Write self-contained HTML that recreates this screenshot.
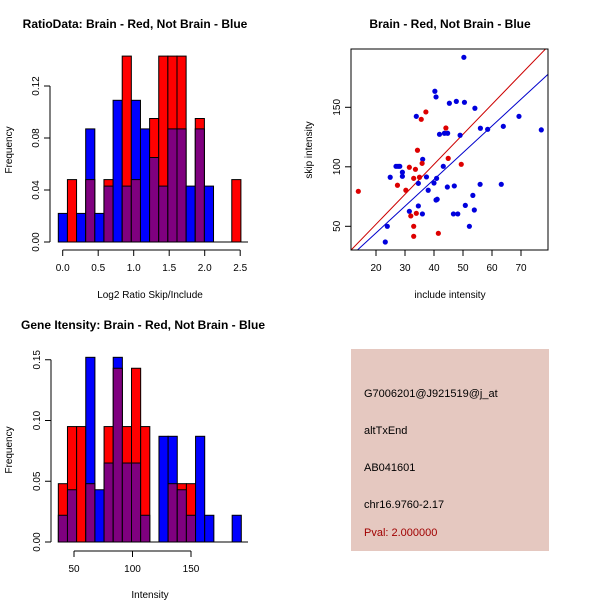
<!DOCTYPE html>
<html><head><meta charset="utf-8"><style>
body{margin:0;background:#fff}
svg{display:block;font-family:"Liberation Sans",sans-serif}
</style></head><body>
<svg id="s" width="600" height="600" xmlns="http://www.w3.org/2000/svg">
<text x="135" y="28" font-size="12" font-weight="bold" text-anchor="middle">RatioData: Brain - Red, Not Brain - Blue</text>
<text x="450" y="28" font-size="12" font-weight="bold" text-anchor="middle">Brain - Red, Not Brain - Blue</text>
<text x="143" y="329" font-size="12" font-weight="bold" text-anchor="middle">Gene Itensity: Brain - Red, Not Brain - Blue</text>
<text x="150" y="298" font-size="10" text-anchor="middle">Log2 Ratio Skip/Include</text>
<text x="12" y="150" font-size="10" text-anchor="middle" transform="rotate(-90 12 150)">Frequency</text>
<text x="450" y="298" font-size="10" text-anchor="middle">include intensity</text>
<text x="312" y="150" font-size="10" text-anchor="middle" transform="rotate(-90 312 150)">skip intensity</text>
<text x="150" y="598" font-size="10" text-anchor="middle">Intensity</text>
<text x="12" y="450" font-size="10" text-anchor="middle" transform="rotate(-90 12 450)">Frequency</text>
<rect x="351" y="349" width="198" height="202" fill="#e5c8c0"/>
<text x="364" y="397" font-size="11">G7006201@J921519@j_at</text>
<text x="364" y="434" font-size="11">altTxEnd</text>
<text x="364" y="471" font-size="11">AB041601</text>
<text x="364" y="508" font-size="11">chr16.9760-2.17</text>
<text x="364" y="536" font-size="11" fill="#a00000">Pval: 2.000000</text>
</svg>
<script>
// Ratio histogram data
const ratioBlue=[0.022,0,0.022,0.087,0.022,0.043,0.109,0.043,0.109,0.087,0.065,0.043,0.087,0.087,0.043,0.087,0.043,0,0,0];
const ratioRed=[0,0.048,0,0.048,0,0.048,0,0.143,0.048,0,0.095,0.143,0.143,0.143,0,0.095,0,0,0,0.048];
const ratioBreakStart=-0.062, ratioBreakWidth=0.1286;
const ratioXTicks=["0.0","0.5","1.0","1.5","2.0","2.5"];
const ratioYTicks=["0.00","0.04","0.08","0.12"];
// Intensity histogram data
const intBlue=[0.022,0.043,0,0.152,0.043,0.065,0.152,0.065,0.065,0.022,0,0.087,0.087,0.043,0.022,0.087,0.022,0,0,0.022];
const intRed=[0.048,0.095,0.095,0.048,0,0.095,0.143,0.095,0.143,0.095,0,0,0.048,0.048,0.048,0,0,0,0,0];
const intBreakStart=36.6, intBreakWidth=7.82;
const intXTicks=["50","100","150"];
const intYTicks=["0.00","0.05","0.10","0.15"];
// Scatter data
const blueX=[50.3,40.3,40.7,47.7,45.3,50.5,54.1,33.9,69.3,56,58.5,63.9,77,41.9,43.6,44.7,49,36.1,43.2,26.9,27.6,28.2,24.9,29.1,29.1,37.4,40.9,40,34.6,44.6,47,55.9,63.2,38,40.7,41.1,53.4,50.8,34.6,31.5,36,46.7,48.2,53.9,52.2,23.9,23.2];
const blueY=[192,163.5,158.7,155,153.4,154.2,149.2,142.4,142.4,132.4,131.5,134,131,127.3,128.2,128.2,126.5,106.3,100.4,100.4,100.4,100.4,91.2,95.4,92,91.5,90.3,86.4,86.1,83,83.9,85.3,85.3,80.3,72.1,72.7,76,67.6,67.1,62.6,60.4,60.4,60.4,63.7,50,50,36.8];
const redX=[13.9,37.2,35.6,44.1,34.3,44.9,35.9,49.4,31.5,33.6,27.4,33,35,30.3,33.9,32,33,33,41.5];
const redY=[79.4,146.1,139.9,132.6,113.9,107.1,102.9,102.1,99.6,97.9,84.5,90.3,91.2,80.3,60.9,58.7,50,41.6,44.1];
const scXTicks=[20,30,40,50,60,70];
const scYTicks=[50,100,150];
const redFit=[1.3,2.52], blueFit=[-0.5,2.247];

const svg=document.getElementById('s');
const NS='http://www.w3.org/2000/svg';
function mk(tag,attrs,parent){const e=document.createElementNS(NS,tag);for(const k in attrs)e.setAttribute(k,attrs[k]);(parent||svg).appendChild(e);return e;}

function hist(blue,red,bStart,bW,sx,sy,prefix,xTicks,yTicks,axisY,yAxisX,baseEnd){
  const g=mk('g',{});
  
  
  for(let i=0;i<blue.length;i++){
    const x0=sx(bStart+i*bW),x1=sx(bStart+(i+1)*bW);
    const b=blue[i],r=red[i];
    const mx=Math.max(b,r),mn=Math.min(b,r);
    if(mx>0){
      const e=mk('rect',{x:x0,y:sy(mx),width:x1-x0,height:sy(0)-sy(mx),fill:b>r?'#0000ff':'#ff0000',stroke:'#000','stroke-width':1},g);
      
      
    }
    if(mn>0){
      const e=mk('rect',{x:x0,y:sy(mn),width:x1-x0,height:sy(0)-sy(mn),fill:'#7f007f',stroke:'#000','stroke-width':1},g);
      
      
    }
  }
  mk('line',{x1:sx(bStart),x2:baseEnd,y1:sy(0),y2:sy(0),stroke:'#000'},g);
  // x axis
  const xv=xTicks.map(Number);
  mk('line',{x1:sx(xv[0]),x2:sx(xv[xv.length-1]),y1:axisY,y2:axisY,stroke:'#000'},g);
  xTicks.forEach(t=>{const x=sx(+t);mk('line',{x1:x,x2:x,y1:axisY,y2:axisY+6,stroke:'#000'},g);
    const e=mk('text',{x:x,y:axisY+21,'font-size':10,'text-anchor':'middle'},g);e.textContent=t;
    
    });
  const yv=yTicks.map(Number);
  mk('line',{x1:yAxisX,x2:yAxisX,y1:sy(yv[0]),y2:sy(yv[yv.length-1]),stroke:'#000'},g);
  yTicks.forEach(t=>{const y=sy(+t);mk('line',{x1:yAxisX,x2:yAxisX-6,y1:y,y2:y,stroke:'#000'},g);
    const e=mk('text',{x:yAxisX-11,y:y,'font-size':10,'text-anchor':'middle',transform:`rotate(-90 ${yAxisX-11} ${y})`},g);e.textContent=t;
    
    });
}
hist(ratioBlue,ratioRed,ratioBreakStart,ratioBreakWidth,v=>62.7+v*71,v=>242-v*1300,'ratio',ratioXTicks,ratioYTicks,250,50,248);
hist(intBlue,intRed,intBreakStart,intBreakWidth,v=>74+(v-50)*1.17,v=>542-v*1215,'intensity',intXTicks,intYTicks,551,51,248);

// scatter
const L=351,R=548,T=49,B=250;
const sx=v=>376+(v-20)*2.9, sy=v=>226.3-(v-50)*1.19;
const sg=mk('g',{});


mk('clipPath',{id:'cp'},sg);
mk('rect',{x:L,y:T,width:R-L,height:B-T},document.getElementById('cp'));
function fit(c,col,name){const x0=0,x1=100;
  const e=mk('line',{x1:sx(x0),y1:sy(c[0]+c[1]*x0),x2:sx(x1),y2:sy(c[0]+c[1]*x1),stroke:col,'clip-path':'url(#cp)'},sg);
  
  }
fit(redFit,'#cc0000','red-fit-line');fit(blueFit,'#0000cc','blue-fit-line');
blueX.forEach((x,i)=>{const e=mk('circle',{cx:sx(x),cy:sy(blueY[i]),r:2.6,fill:'#0000dd'},sg);
  
  });
redX.forEach((x,i)=>{const e=mk('circle',{cx:sx(x),cy:sy(redY[i]),r:2.6,fill:'#dd0000'},sg);
  
  });
mk('rect',{x:L,y:T,width:R-L,height:B-T,fill:'none',stroke:'#000'},sg);
scXTicks.forEach(t=>{const x=sx(t);mk('line',{x1:x,x2:x,y1:B,y2:B+6,stroke:'#000'},sg);
  const e=mk('text',{x:x,y:B+21,'font-size':10,'text-anchor':'middle'},sg);e.textContent=t;
  
  });
scYTicks.forEach(t=>{const y=sy(t);mk('line',{x1:L,x2:L-6,y1:y,y2:y,stroke:'#000'},sg);
  const e=mk('text',{x:L-11,y:y,'font-size':10,'text-anchor':'middle',transform:`rotate(-90 ${L-11} ${y})`},sg);e.textContent=t;
  
  });
</script>
</body></html>
